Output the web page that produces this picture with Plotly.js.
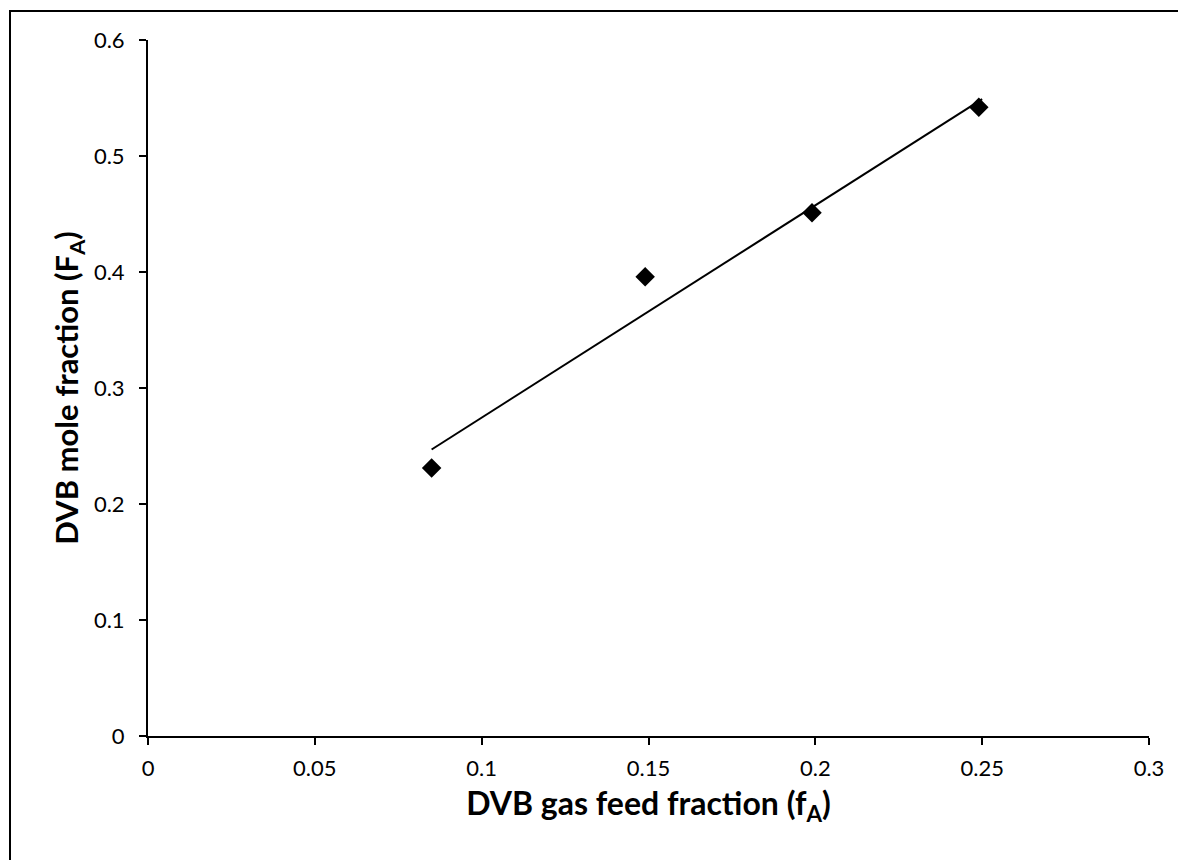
<!DOCTYPE html>
<html>
<head>
<meta charset="utf-8">
<script src="https://cdn.plot.ly/plotly-3.0.1.min.js"></script>
<style>
  html, body { margin: 0; padding: 0; background: #fff; }
  #wrap { position: relative; width: 1178px; height: 860px; }
  #chart { width: 1178px; height: 860px; }
  #frame { position: absolute; left: 9px; top: 10px; width: 1169px; height: 850px;
           border-top: 2px solid #000; border-left: 2px solid #000; pointer-events: none; box-sizing: border-box; }
</style>
</head>
<body>
<div id="wrap">
  <div id="chart"></div>
  <div id="frame"></div>
</div>
<script>
// Measured data (DVB gas feed fraction vs DVB mole fraction)
const feedFraction = [0.085, 0.149, 0.199, 0.249];
const moleFraction = [0.231, 0.396, 0.451, 0.542];
// Linear trendline end points
const trendX = [0.085, 0.25];
const trendY = [0.247, 0.549];
const xTicks = [0, 0.05, 0.1, 0.15, 0.2, 0.25, 0.3];
const xTickText = ['0', '0.05', '0.1', '0.15', '0.2', '0.25', '0.3'];
const yTicks = [0, 0.1, 0.2, 0.3, 0.4, 0.5, 0.6];
const yTickText = ['0', '0.1', '0.2', '0.3', '0.4', '0.5', '0.6'];

const FONT = 'Lato, "Open Sans", "DejaVu Sans", sans-serif';

const traces = [
  {
    x: feedFraction, y: moleFraction, type: 'scatter', mode: 'markers',
    marker: { symbol: 'diamond', size: 15, color: '#000' },
    showlegend: false, hoverinfo: 'x+y'
  },
  {
    x: trendX, y: trendY, type: 'scatter', mode: 'lines',
    line: { color: '#000', width: 2 },
    showlegend: false, hoverinfo: 'skip'
  }
];

const layout = {
  width: 1178, height: 860,
  margin: { l: 148, r: 29, t: 40, b: 124 },
  paper_bgcolor: '#fff', plot_bgcolor: '#fff',
  font: { family: FONT, color: '#000', size: 22 },
  xaxis: {
    range: [0, 0.3], tickvals: xTicks, ticktext: xTickText,
    showgrid: false, zeroline: false, showline: true, linecolor: '#000', linewidth: 2,
    ticks: 'outside', ticklen: 7, tickwidth: 2, tickcolor: '#000',
    tickfont: { family: FONT, size: 22, color: '#000' },
    ticklabelstandoff: 5,
    title: { text: 'DVB gas feed fraction (f<sub>A</sub>)', font: { family: FONT, size: 32, color: '#000', weight: 'bold' }, standoff: 12 }
  },
  yaxis: {
    range: [0, 0.6], tickvals: yTicks, ticktext: yTickText,
    showgrid: false, zeroline: false, showline: true, linecolor: '#000', linewidth: 2,
    ticks: 'outside', ticklen: 7, tickwidth: 2, tickcolor: '#000',
    tickfont: { family: FONT, size: 22, color: '#000' },
    ticklabelstandoff: 10,
    title: { text: 'DVB mole fraction (F<sub>A</sub>)', font: { family: FONT, size: 31, color: '#000', weight: 'bold' }, standoff: 6 }
  }
};

Plotly.newPlot('chart', traces, layout, { displayModeBar: false, staticPlot: true });
</script>
</body>
</html>
